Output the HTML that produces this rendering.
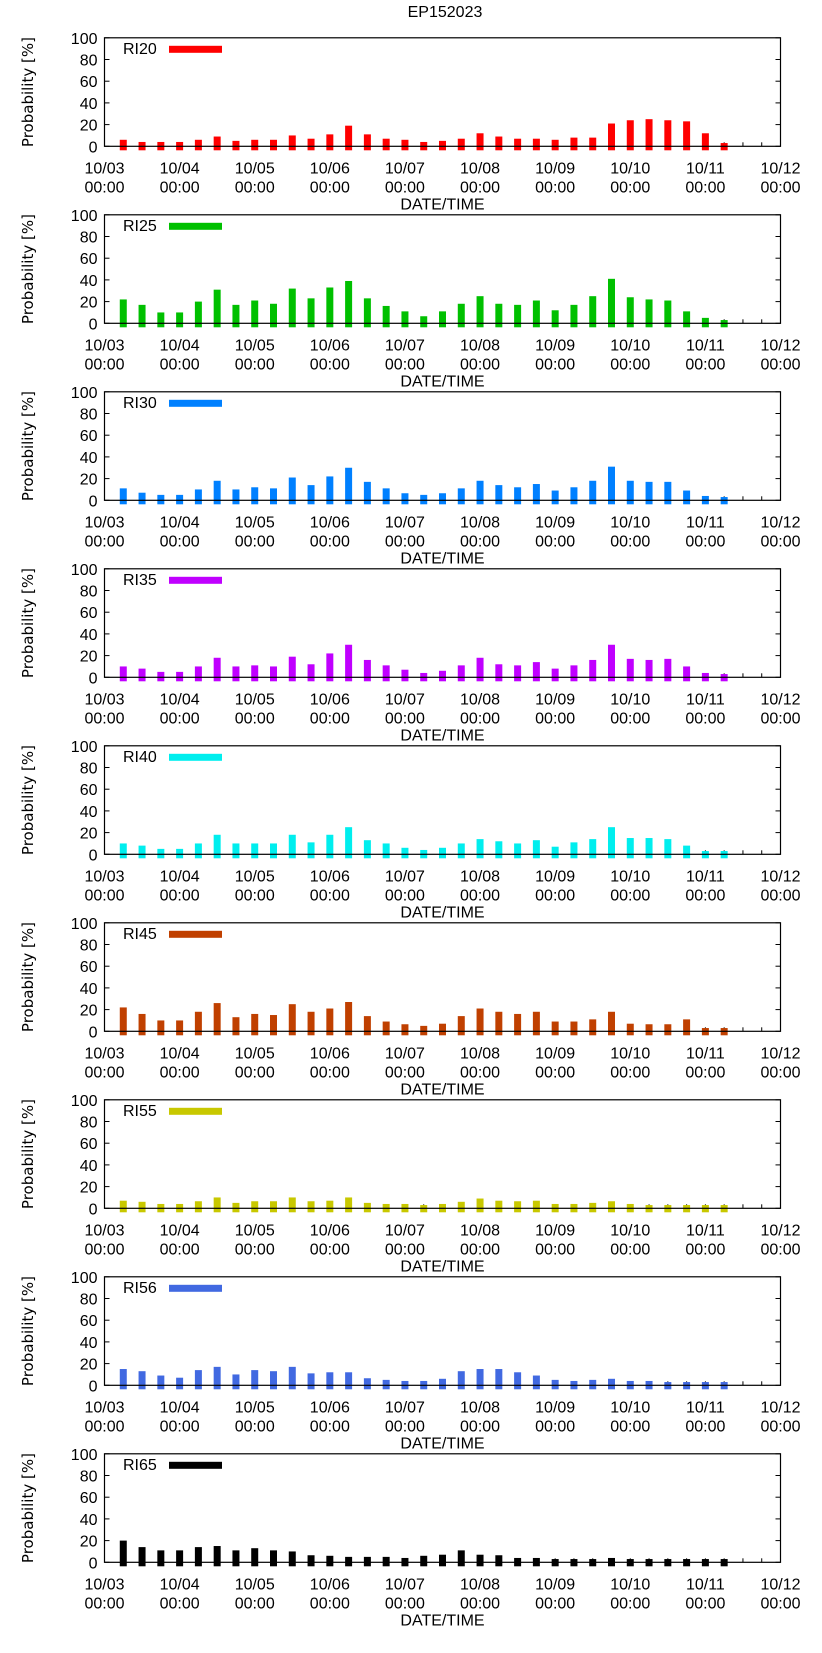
<!DOCTYPE html>
<html><head><meta charset="utf-8"><style>
html,body{margin:0;padding:0;background:#fff;}
svg{display:block;font-family:"Liberation Sans",sans-serif;}
</style></head><body>
<svg id="chart" width="822" height="1653" viewBox="0 0 822 1653" xmlns="http://www.w3.org/2000/svg">
<text x="445" y="17" font-size="16" text-anchor="middle">EP152023</text>
</svg>
<script>
const seriesNames = ["RI20","RI25","RI30","RI35","RI40","RI45","RI55","RI56","RI65"];
const seriesColors = ["#ff0000","#00c000","#0080ff","#c000ff","#00eeee","#c04000","#c8c800","#4169e1","#000000"];
const ri20 = [6,4,4,4,6,9,5,6,6,10,7,11,19,11,7,6,4,5,7,12,9,7,7,6,8,8,21,24,25,24,23,12,3];
const ri25 = [22,17,10,10,20,31,17,21,18,32,23,33,39,23,16,11,6.5,11,18,25,18,17,21,12,17,25,41,24,22,21,11,5,3];
const ri30 = [11,7,5,5,10,18,10,12,11,21,14,22,30,17,11,6.5,5,6.5,11,18,14,12,15,9,12,18,31,18,17,17,9,4,3];
const ri35 = [10,8,5,5,10,18,10,11,10,19,12,22,30,16,11,7,4,6,11,18,12,11,14,8,11,16,30,17,16,17,10,4,3];
const ri40 = [10,8,5,5,10,18,10,10,10,18,11,18,25,13,10,6,4,6,10,14,12,10,13,7,11,14,25,15,15,14,8,3,3];
const ri45 = [22,16,10,10,18,26,13,16,15,25,18,21,27,14,9,6.5,5,7,14,21,18,16,18,9,9,11,18,7,6.5,6.5,11,3,3];
const ri55 = [7,6,4,4,6.5,10,5,6.5,6.5,10,6.5,7,10,5,4,4,3,4,6,9,7,6.5,7,4,4,5,6.5,4,3,3,3,3,3];
const ri56 = [15,13,9,7,14,17,10,14,13,17,11,12,12,6.5,5,4,4,6,13,15,15,12,9,5,4,5,6,4,4,3,3,3,3];
const ri65 = [20,14,11,11,14,15,11,13,11,10,6.5,6,5,5,5,4,6,7,11,7,6.5,4,4,3,3,3,4,3,3,3,3,3,3];
const allSeries = [ri20,ri25,ri30,ri35,ri40,ri45,ri55,ri56,ri65];
const dayLabels = ["10/03","10/04","10/05","10/06","10/07","10/08","10/09","10/10","10/11","10/12"];
const yTicks = [0,20,40,60,80,100];

const NS="http://www.w3.org/2000/svg";
const svg=document.getElementById('chart');
const L=104.5, R=780.5, PH=108.5, Z0=146.3, DY=177;
const hours=9*24;
function xScale(h){return L+(R-L)*h/hours;}
function mk(tag,attrs,parent){const e=document.createElementNS(NS,tag);for(const k in attrs)e.setAttribute(k,attrs[k]);(parent||svg).appendChild(e);return e;}

for(let p=0;p<allSeries.length;p++){
  const zero=Z0+DY*p, top=zero-PH;
  const yScale=v=>zero-PH*v/100;
  const g=mk('g',{});
  
  
  for(let h=6;h<hours;h+=6){
    const x=xScale(h);
    mk('line',{x1:x,x2:x,y1:zero,y2:zero-4,stroke:'#000'},g);
  }
  const vals=allSeries[p];
  for(let i=0;i<vals.length;i++){
    const h=6+6*i;
    const cx=xScale(h);
    const b=mk('rect',{x:cx-3.5,y:yScale(vals[i]),width:7,height:zero+4-yScale(vals[i]),fill:seriesColors[p]},g);
    
    
  }
  const fr=mk('rect',{x:L,y:top,width:R-L,height:PH,fill:'none',stroke:'#000','stroke-width':1.2},g);
  
  
  for(const t of yTicks){
    const y=yScale(t);
    mk('line',{x1:L,x2:L+5,y1:y,y2:y,stroke:'#000'},g);
    mk('line',{x1:R-5,x2:R,y1:y,y2:y,stroke:'#000'},g);
    const tl=mk('text',{x:L-7,y:y+6,'font-size':16,'text-anchor':'end'},g);
    tl.textContent=t;
    
    
  }
  for(let d=0;d<dayLabels.length;d++){
    const x=xScale(d*24);
    const t1=mk('text',{x:x,y:zero+27,'font-size':16,'text-anchor':'middle'},g);
    t1.textContent=dayLabels[d];
    
    
    const t2=mk('text',{x:x,y:zero+46,'font-size':16,'text-anchor':'middle'},g);
    t2.textContent="00:00";
    
    
  }
  const xt=mk('text',{x:(L+R)/2,y:zero+63,'font-size':16,'text-anchor':'middle'},g);
  xt.textContent="DATE/TIME";
  
  
  const yt=mk('text',{x:0,y:0,'font-size':15,'font-family':'"DejaVu Sans",sans-serif','text-anchor':'middle',transform:'translate(33,'+(top+PH/2)+') rotate(-90)'},g);
  yt.textContent="Probability [%]";
  
  
  const lt=mk('text',{x:123,y:top+16,'font-size':16},g);
  lt.textContent=seriesNames[p];
  
  
  const ls=mk('rect',{x:169,y:top+8,width:53,height:7,fill:seriesColors[p]},g);
  
  
}
</script>
</body></html>
